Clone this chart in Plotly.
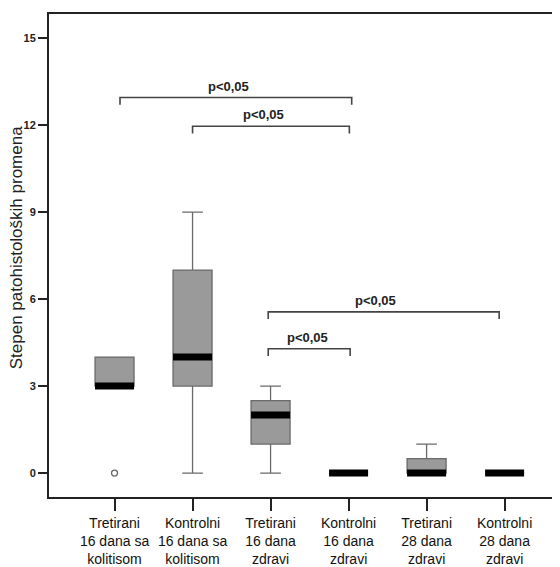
import plotly.graph_objects as go

# ---- data ----
categories = ["Tretirani<br>16 dana sa<br>kolitisom",
              "Kontrolni<br>16 dana sa<br>kolitisom",
              "Tretirani<br>16 dana<br>zdravi",
              "Kontrolni<br>16 dana<br>zdravi",
              "Tretirani<br>28 dana<br>zdravi",
              "Kontrolni<br>28 dana<br>zdravi"]
q1 = [3, 3, 1, 0, 0, 0]
median = [3, 4, 2, 0, 0, 0]
q3 = [4, 7, 2.5, 0, 0.5, 0]
lowerfence = [3, 0, 0, 0, 0, 0]
upperfence = [4, 9, 3, 0, 1, 0]
outlier_cat = [0]
outlier_val = [0]

# significance brackets (start position, end position, height, label position)
br_start = [0.07, 1.0, 1.97, 1.97]
br_end = [3.04, 3.01, 4.93, 3.02]
br_y = [12.95, 11.96, 5.56, 4.29]
br_label_x = [1.46, 1.91, 3.35, 2.47]
br_label = ["p<0,05", "p<0,05", "p<0,05", "p<0,05"]

y_ticks = [0, 3, 6, 9, 12, 15]
y_title = "Stepen patohistoloških promena"

# ---- style ----
BOX_W = 0.5
DROP = 0.25
FONT = "Liberation Sans, Arial, sans-serif"

positions = list(range(len(categories)))

fig = go.Figure()
fig.add_trace(go.Box(
    x=positions, q1=q1, median=median, q3=q3,
    lowerfence=lowerfence, upperfence=upperfence,
    width=BOX_W, whiskerwidth=0.53,
    fillcolor="#9a9a9a", line=dict(color="#6a6a6a", width=1.3),
    boxpoints=False, showlegend=False, hoverinfo="skip"))

# thick black median bands
mx, my = [], []
for p, m in zip(positions, median):
    mx += [p - BOX_W / 2, p + BOX_W / 2, None]
    my += [m, m, None]
fig.add_trace(go.Scatter(x=mx, y=my, mode="lines",
                         line=dict(color="black", width=7),
                         showlegend=False, hoverinfo="skip"))

# outlier
fig.add_trace(go.Scatter(x=outlier_cat, y=outlier_val, mode="markers",
                         marker=dict(symbol="circle-open", size=6,
                                     color="#666", line=dict(width=1.3)),
                         showlegend=False, hoverinfo="skip"))

# brackets
bx, by = [], []
for s, e, h in zip(br_start, br_end, br_y):
    bx += [s, s, e, e, None]
    by += [h - DROP, h, h, h - DROP, None]
fig.add_trace(go.Scatter(x=bx, y=by, mode="lines",
                         line=dict(color="#444", width=1.6),
                         showlegend=False, hoverinfo="skip"))

for lx, h, t in zip(br_label_x, br_y, br_label):
    fig.add_annotation(x=lx, y=h, text="<b>%s</b>" % t, showarrow=False,
                       xanchor="center", yanchor="bottom", yshift=2,
                       font=dict(family=FONT, size=13, color="#222"))

fig.add_annotation(x=-33 / 511, y=0.515, xref="paper", yref="paper",
                   text=y_title, textangle=-90, showarrow=False,
                   xanchor="center", yanchor="middle",
                   font=dict(family=FONT, size=17, color="#222"))

# the page body has an 8px margin, so the figure is sized to fit the window
fig.update_layout(
    width=552, height=559,
    margin=dict(l=41, r=0, t=6, b=68),
    paper_bgcolor="white", plot_bgcolor="white",
    font=dict(family=FONT, color="#111"),
    xaxis=dict(range=[-0.84, 5.71], tickmode="array", tickvals=positions,
               ticktext=categories, showline=True, linecolor="#222",
               linewidth=2, mirror=True, ticks="outside", ticklen=12,
               tickwidth=2, tickcolor="#222", showgrid=False, zeroline=False,
               tickfont=dict(family=FONT, size=14, color="#111")),
    yaxis=dict(range=[-0.824, 15.83], tickmode="array", tickvals=y_ticks,
               showline=True, linecolor="#222", linewidth=2, mirror=False,
               ticks="outside", ticklen=9, tickwidth=1.5, tickcolor="#222",
               showgrid=False, zeroline=False,
               tickfont=dict(family=FONT, size=11, color="#222",
                             weight="bold")),
)

fig.write_html("out.html")
